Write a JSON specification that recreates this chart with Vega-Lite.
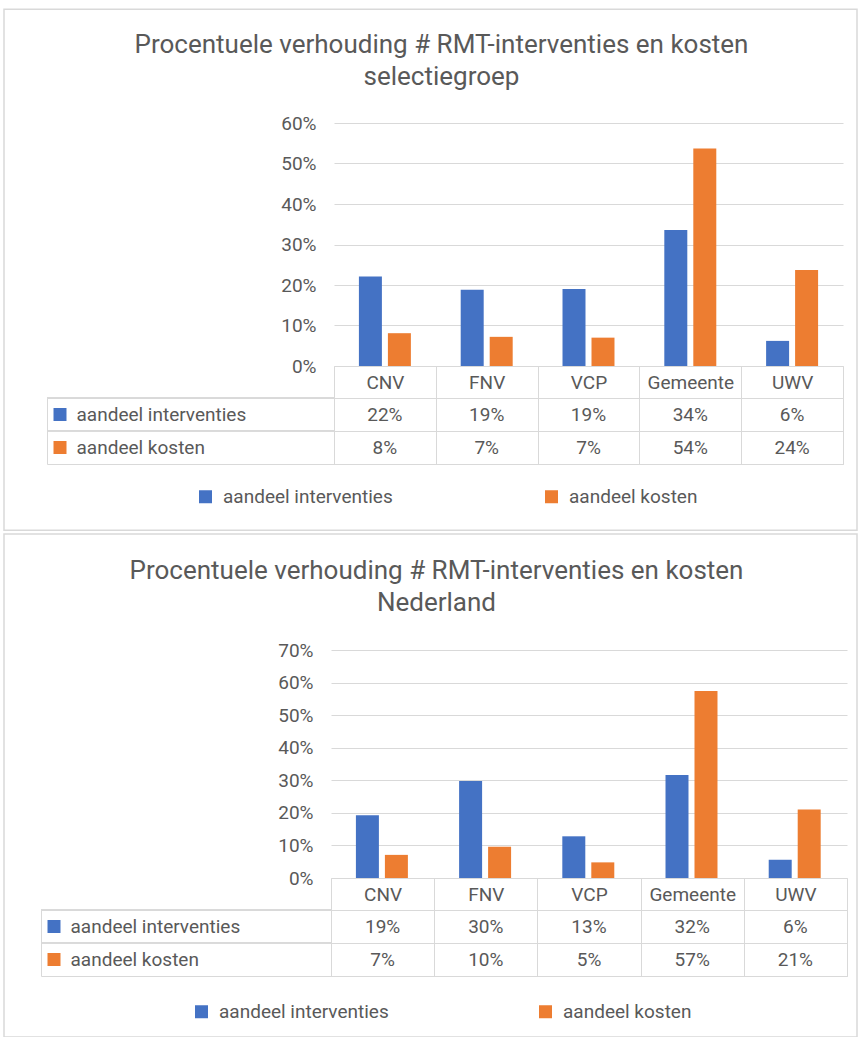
{
  "$schema": "https://vega.github.io/schema/vega-lite/v6.json",
  "padding": {"left": 4, "top": 9, "right": 0, "bottom": 0},
  "config": {
    "font": "Roboto",
    "view": {"stroke": null},
    "title": {"font": "Roboto", "fontSize": 26, "fontWeight": "normal", "color": "#595959", "lineHeight": 32, "anchor": "middle"},
    "axis": {"labelFont": "Roboto", "labelFontSize": 19, "labelColor": "#595959", "title": null, "labelLimit": 300},
    "legend": {"labelFont": "Roboto", "labelFontSize": 19, "labelColor": "#595959", "symbolType": "square", "symbolSize": 169, "symbolStrokeWidth": 0, "symbolOpacity": 1, "labelOffset": 8, "padding": 0, "labelLimit": 300, "title": null, "gradientHorizontalMaxLength": 2000, "gradientHorizontalMinLength": 10}
  },
  "datasets": {
    "sel": [
      {"category": "CNV", "series": "aandeel interventies", "value": 0.221},
      {"category": "FNV", "series": "aandeel interventies", "value": 0.188},
      {"category": "VCP", "series": "aandeel interventies", "value": 0.190},
      {"category": "Gemeente", "series": "aandeel interventies", "value": 0.336},
      {"category": "UWV", "series": "aandeel interventies", "value": 0.062},
      {"category": "CNV", "series": "aandeel kosten", "value": 0.081},
      {"category": "FNV", "series": "aandeel kosten", "value": 0.072},
      {"category": "VCP", "series": "aandeel kosten", "value": 0.070},
      {"category": "Gemeente", "series": "aandeel kosten", "value": 0.537},
      {"category": "UWV", "series": "aandeel kosten", "value": 0.237}
    ],
    "nl": [
      {"category": "CNV", "series": "aandeel interventies", "value": 0.193},
      {"category": "FNV", "series": "aandeel interventies", "value": 0.298},
      {"category": "VCP", "series": "aandeel interventies", "value": 0.128},
      {"category": "Gemeente", "series": "aandeel interventies", "value": 0.316},
      {"category": "UWV", "series": "aandeel interventies", "value": 0.056},
      {"category": "CNV", "series": "aandeel kosten", "value": 0.071},
      {"category": "FNV", "series": "aandeel kosten", "value": 0.096},
      {"category": "VCP", "series": "aandeel kosten", "value": 0.048},
      {"category": "Gemeente", "series": "aandeel kosten", "value": 0.574},
      {"category": "UWV", "series": "aandeel kosten", "value": 0.210}
    ],
    "blank": [{"t": ""}]
  },
  "resolve": {"scale": {"color": "independent"}, "legend": {"color": "independent"}},
  "spacing": 2,
  "vconcat": [
    {
      "title": {"text": ["Procentuele verhouding # RMT-interventies en kosten", "selectiegroep"], "dx": 10.5, "offset": -81},
      "bounds": "flush",
      "columns": 3,
      "spacing": {"row": 32, "column": 0},
      "resolve": {"scale": {"color": "independent"}, "legend": {"color": "independent"}},
      "concat": [
        {
          "width": 43, "height": 243, "data": {"name": "sel"}, "mark": {"type": "text"},
          "encoding": {
            "text": {"value": ""},
            "color": {"field": "value", "type": "quantitative", "scale": {"range": ["rgba(255,255,255,0)", "rgba(255,255,255,0)"]},
                      "legend": {"orient": "none", "legendX": 0, "legendY": -113.7, "direction": "horizontal", "gradientLength": 853, "gradientThickness": 521, "gradientStrokeColor": "#d9d9d9", "gradientStrokeWidth": 1.5, "labelExpr": "''", "labelOpacity": 0, "labelFontSize": 1, "labelOffset": 0, "title": null}}
          }
        },
        {"width": 287, "height": 243, "data": {"name": "blank"}, "mark": {"type": "text"}, "encoding": {"text": {"field": "t", "type": "nominal"}}},
        {
          "width": 509, "height": 243,
          "data": {"name": "sel"},
          "mark": {"type": "bar"},
          "encoding": {
            "x": {"field": "category", "type": "nominal", "sort": ["CNV", "FNV", "VCP", "Gemeente", "UWV"],
                  "scale": {"paddingInner": 0, "paddingOuter": 0},
                  "axis": {"domain": true, "domainColor": "#d9d9d9", "domainWidth": 1, "ticks": true, "tickBand": "extent", "tickSize": 32, "tickColor": "#d9d9d9", "labelAngle": 0, "labelBaseline": "middle", "labelPadding": -16, "title": null}},
            "xOffset": {"field": "series", "type": "nominal", "sort": ["aandeel interventies", "aandeel kosten"], "scale": {"paddingInner": 0.207, "paddingOuter": 0.859}},
            "y": {"field": "value", "type": "quantitative", "scale": {"domain": [0, 0.6]},
                  "axis": {"values": [0, 0.1, 0.2, 0.3, 0.4, 0.5, 0.6], "format": ".0%", "domain": false, "ticks": false, "labelPadding": 18, "grid": true, "gridColor": "#d9d9d9", "gridWidth": 1.2, "title": null}},
            "color": {"field": "series", "type": "nominal",
                      "scale": {"domain": ["aandeel interventies", "aandeel kosten"], "range": ["#4472C4", "#ED7D31"]},
                      "legend": {"orient": "none", "legendX": -138, "legendY": 364, "direction": "horizontal", "columnPadding": 149}}
          }
        },
        {"width": 43, "height": 66, "data": {"name": "blank"}, "mark": {"type": "text"}, "encoding": {"text": {"field": "t", "type": "nominal"}}},
        {
          "width": 287, "height": 66,
          "data": {"name": "sel"},
          "view": {"stroke": "#d9d9d9"},
          "mark": {"type": "rule", "color": "#d9d9d9"},
          "encoding": {
            "y": {"field": "series", "type": "nominal", "sort": ["aandeel interventies", "aandeel kosten"], "bandPosition": 0,
                  "scale": {"type": "band", "paddingInner": 0, "paddingOuter": 0},
                  "axis": {"orient": "left", "offset": -19, "domain": false, "grid": false, "ticks": true, "tickSize": 13, "tickWidth": 13, "tickCap": "butt",
                           "tickColor": {"condition": {"test": "datum.value === 'aandeel interventies'", "value": "#4472C4"}, "value": "#ED7D31"},
                           "labelAlign": "left", "labelPadding": -23, "labelBaseline": "middle", "title": null}}
          }
        },
        {
          "width": 509, "height": 66,
          "data": {"name": "sel"},
          "view": {"stroke": "#d9d9d9"},
          "mark": {"type": "text", "fontSize": 19, "color": "#595959", "font": "Roboto"},
          "encoding": {
            "x": {"field": "category", "type": "nominal", "sort": ["CNV", "FNV", "VCP", "Gemeente", "UWV"],
                  "scale": {"type": "band", "paddingInner": 0, "paddingOuter": 0},
                  "axis": {"grid": true, "tickBand": "extent", "labels": false, "ticks": false, "domain": false, "gridColor": "#d9d9d9", "title": null}},
            "y": {"field": "series", "type": "nominal", "sort": ["aandeel interventies", "aandeel kosten"],
                  "scale": {"type": "band", "paddingInner": 0, "paddingOuter": 0},
                  "axis": {"grid": true, "tickBand": "extent", "labels": false, "ticks": false, "domain": false, "gridColor": "#d9d9d9", "title": null}},
            "text": {"field": "value", "type": "quantitative", "format": ".0%"}
          }
        }
      ]
    },
    {
      "title": {"text": ["Procentuele verhouding # RMT-interventies en kosten", "Nederland"], "dx": 5.5, "offset": -82},
      "bounds": "flush",
      "columns": 3,
      "spacing": {"row": 32, "column": 0},
      "resolve": {"scale": {"color": "independent"}, "legend": {"color": "independent"}},
      "concat": [
        {
          "width": 37, "height": 228, "data": {"name": "nl"}, "mark": {"type": "text"},
          "encoding": {
            "text": {"value": ""},
            "color": {"field": "value", "type": "quantitative", "scale": {"range": ["rgba(255,255,255,0)", "rgba(255,255,255,0)"]},
                      "legend": {"orient": "none", "legendX": 0, "legendY": -116, "direction": "horizontal", "gradientLength": 853, "gradientThickness": 503, "gradientStrokeColor": "#d9d9d9", "gradientStrokeWidth": 1.5, "labelExpr": "''", "labelOpacity": 0, "labelFontSize": 1, "labelOffset": 0, "title": null}}
          }
        },
        {"width": 290, "height": 228, "data": {"name": "blank"}, "mark": {"type": "text"}, "encoding": {"text": {"field": "t", "type": "nominal"}}},
        {
          "width": 516, "height": 228,
          "data": {"name": "nl"},
          "mark": {"type": "bar"},
          "encoding": {
            "x": {"field": "category", "type": "nominal", "sort": ["CNV", "FNV", "VCP", "Gemeente", "UWV"],
                  "scale": {"paddingInner": 0, "paddingOuter": 0},
                  "axis": {"domain": true, "domainColor": "#d9d9d9", "domainWidth": 1, "ticks": true, "tickBand": "extent", "tickSize": 32, "tickColor": "#d9d9d9", "labelAngle": 0, "labelBaseline": "middle", "labelPadding": -16, "title": null}},
            "xOffset": {"field": "series", "type": "nominal", "sort": ["aandeel interventies", "aandeel kosten"], "scale": {"paddingInner": 0.207, "paddingOuter": 0.883}},
            "y": {"field": "value", "type": "quantitative", "scale": {"domain": [0, 0.7]},
                  "axis": {"values": [0, 0.1, 0.2, 0.3, 0.4, 0.5, 0.6, 0.7], "format": ".0%", "domain": false, "ticks": false, "labelPadding": 18, "grid": true, "gridColor": "#d9d9d9", "gridWidth": 1.2, "title": null}},
            "color": {"field": "series", "type": "nominal",
                      "scale": {"domain": ["aandeel interventies", "aandeel kosten"], "range": ["#4472C4", "#ED7D31"]},
                      "legend": {"orient": "none", "legendX": -139, "legendY": 352, "direction": "horizontal", "columnPadding": 147}}
          }
        },
        {"width": 37, "height": 66, "data": {"name": "blank"}, "mark": {"type": "text"}, "encoding": {"text": {"field": "t", "type": "nominal"}}},
        {
          "width": 290, "height": 66,
          "data": {"name": "nl"},
          "view": {"stroke": "#d9d9d9"},
          "mark": {"type": "rule", "color": "#d9d9d9"},
          "encoding": {
            "y": {"field": "series", "type": "nominal", "sort": ["aandeel interventies", "aandeel kosten"], "bandPosition": 0,
                  "scale": {"type": "band", "paddingInner": 0, "paddingOuter": 0},
                  "axis": {"orient": "left", "offset": -19, "domain": false, "grid": false, "ticks": true, "tickSize": 13, "tickWidth": 13, "tickCap": "butt",
                           "tickColor": {"condition": {"test": "datum.value === 'aandeel interventies'", "value": "#4472C4"}, "value": "#ED7D31"},
                           "labelAlign": "left", "labelPadding": -23, "labelBaseline": "middle", "title": null}}
          }
        },
        {
          "width": 516, "height": 66,
          "data": {"name": "nl"},
          "view": {"stroke": "#d9d9d9"},
          "mark": {"type": "text", "fontSize": 19, "color": "#595959", "font": "Roboto"},
          "encoding": {
            "x": {"field": "category", "type": "nominal", "sort": ["CNV", "FNV", "VCP", "Gemeente", "UWV"],
                  "scale": {"type": "band", "paddingInner": 0, "paddingOuter": 0},
                  "axis": {"grid": true, "tickBand": "extent", "labels": false, "ticks": false, "domain": false, "gridColor": "#d9d9d9", "title": null}},
            "y": {"field": "series", "type": "nominal", "sort": ["aandeel interventies", "aandeel kosten"],
                  "scale": {"type": "band", "paddingInner": 0, "paddingOuter": 0},
                  "axis": {"grid": true, "tickBand": "extent", "labels": false, "ticks": false, "domain": false, "gridColor": "#d9d9d9", "title": null}},
            "text": {"field": "value", "type": "quantitative", "format": ".0%"}
          }
        }
      ]
    }
  ]
}
